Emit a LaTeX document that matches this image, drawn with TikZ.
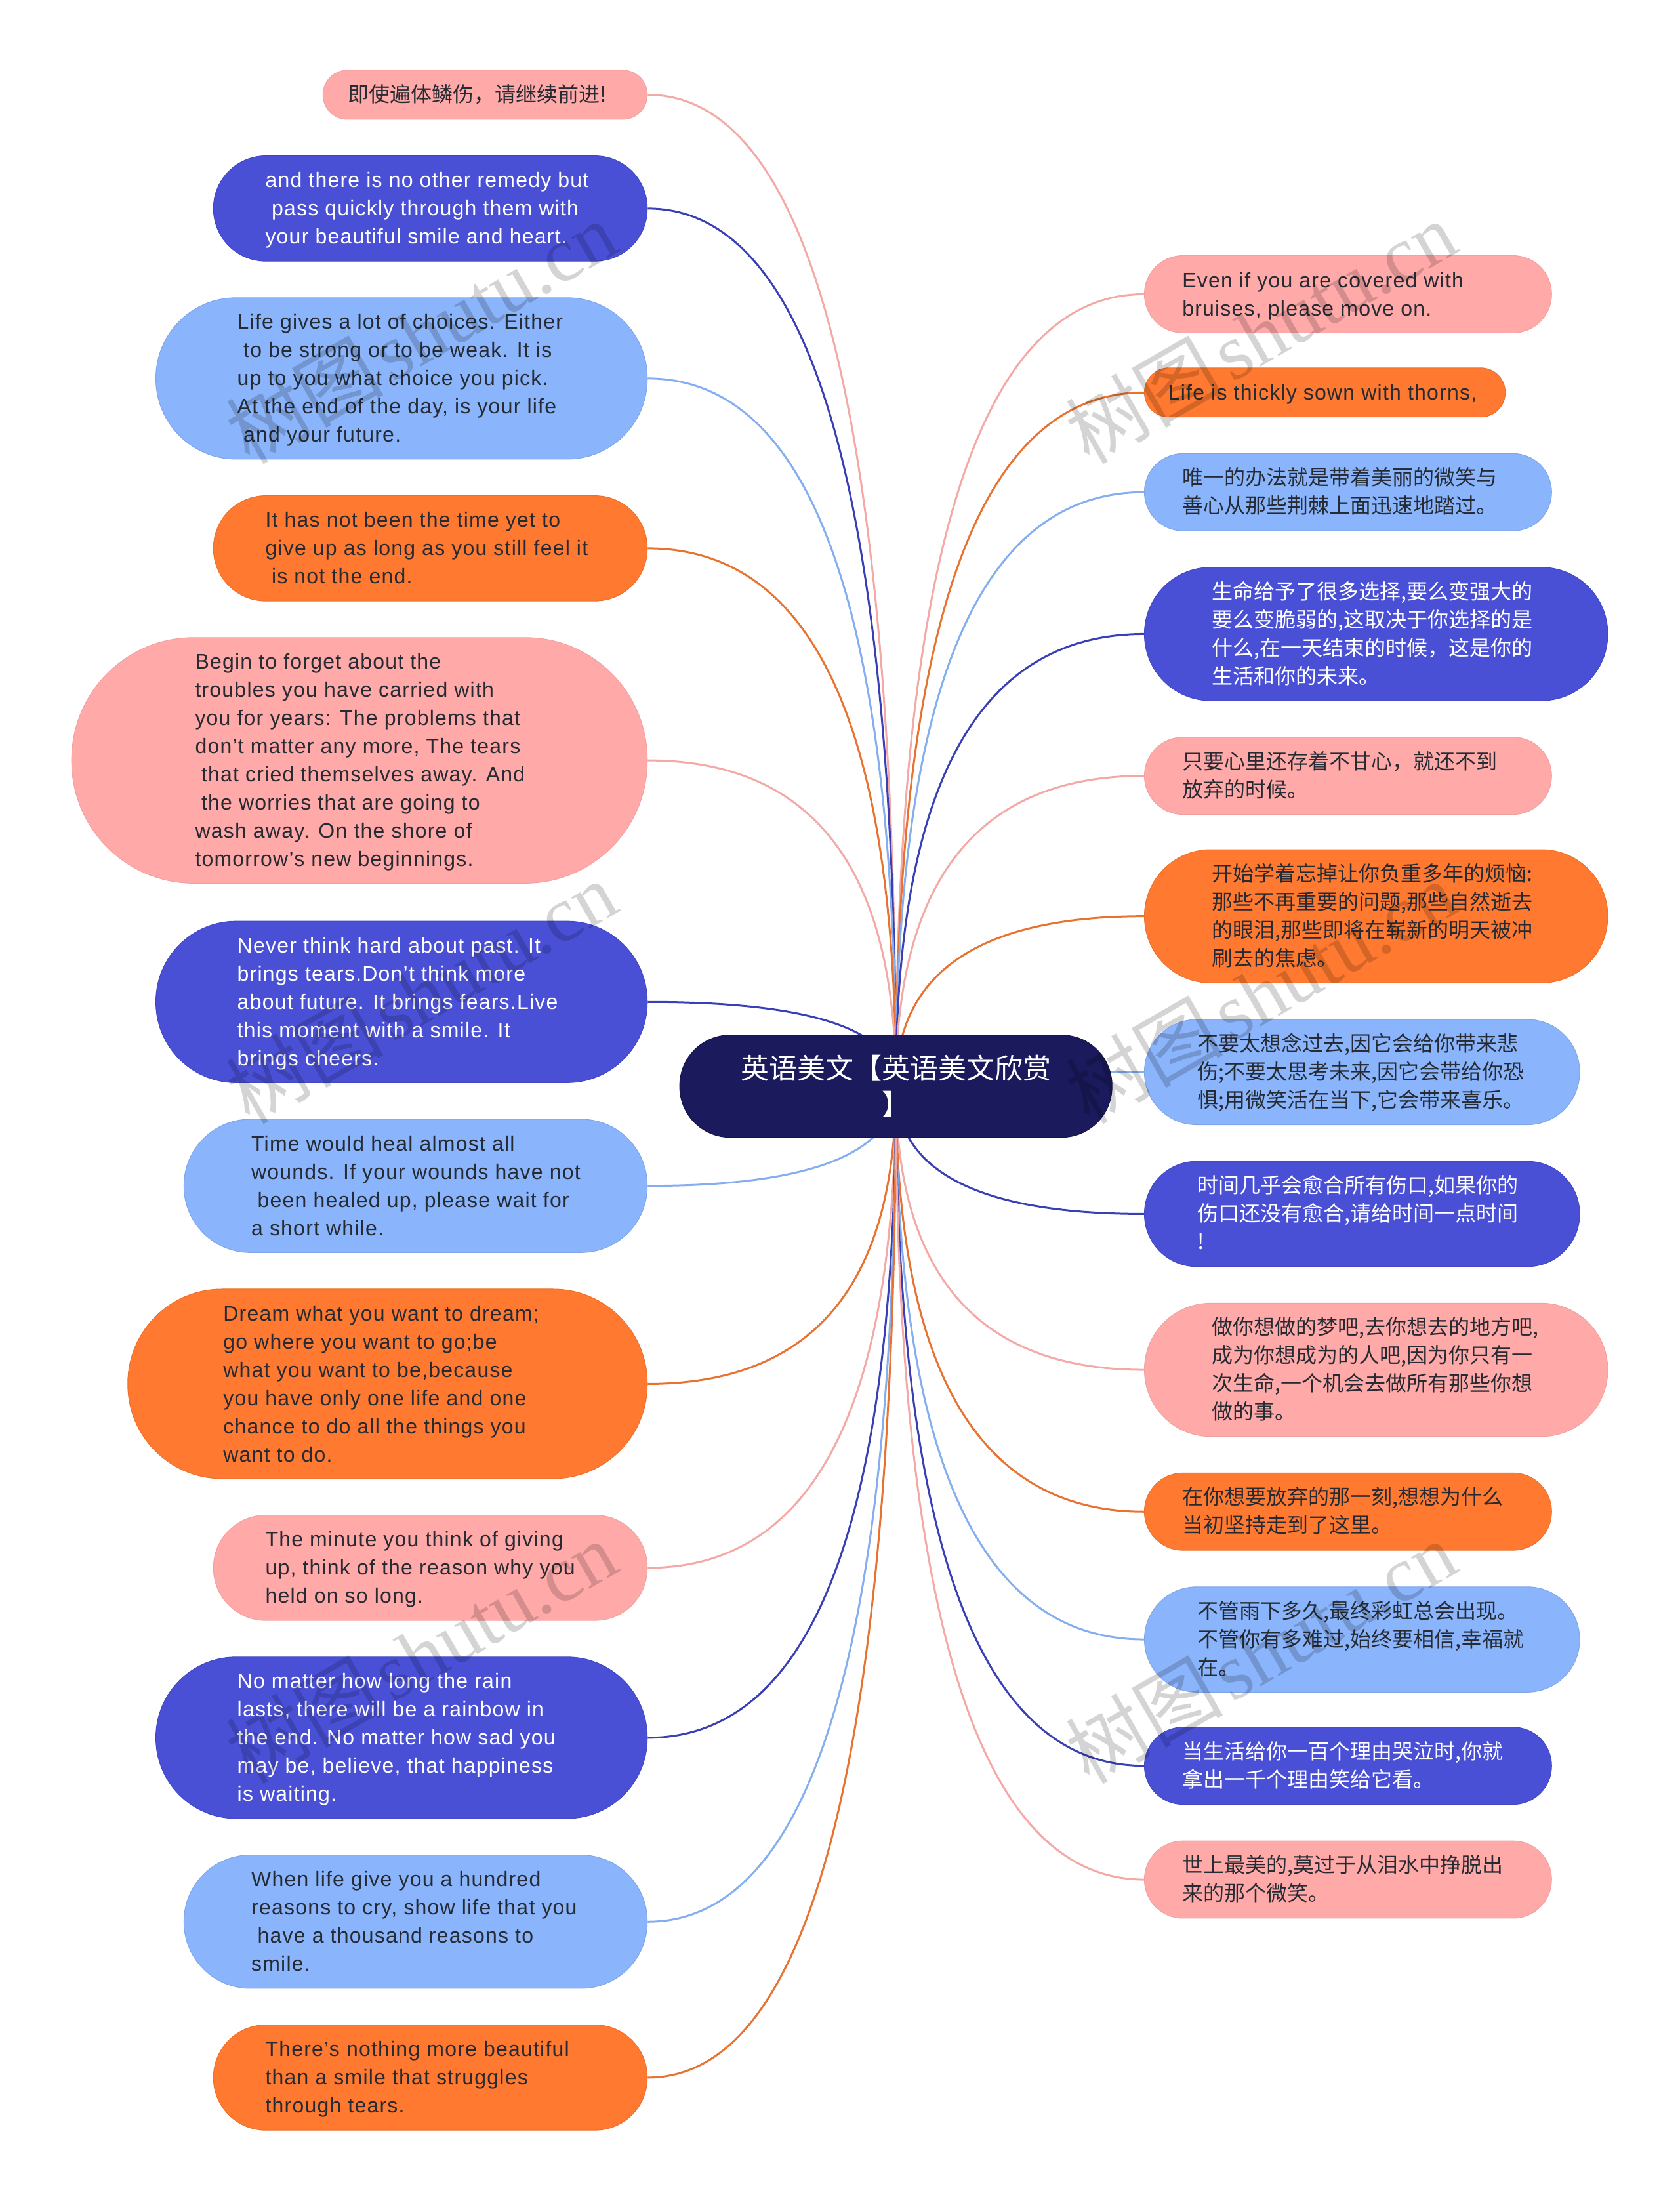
\documentclass[tikz,border=0pt]{standalone}
\usepackage{fontspec}
\setmainfont[LetterSpace=3.8]{Liberation Sans}
\newfontfamily\cjkf{Noto Sans CJK SC}
\newfontfamily\wmserif{Liberation Serif}
\usetikzlibrary{calc}
\pgfdeclarelayer{bg}
\pgfsetlayers{bg,main}
\definecolor{cpink}{HTML}{FFA9A9}
\definecolor{cdark}{HTML}{4950D6}
\definecolor{clight}{HTML}{8AB4FB}
\definecolor{corange}{HTML}{FF7A30}
\definecolor{croot}{HTML}{1A1A5C}
\definecolor{lpink}{HTML}{F3AAA6}
\definecolor{ldark}{HTML}{3A40B4}
\definecolor{llight}{HTML}{85AEEF}
\definecolor{lorange}{HTML}{E8722F}
\definecolor{tdark}{HTML}{262B33}
\tikzset{
  base/.style={inner sep=0pt,font=\fontsize{32}{43}\selectfont,text=tdark,line width=1pt},
  bpink/.style={base,fill=cpink,draw=cpink!95!black},
  bdark/.style={base,fill=cdark,draw=cdark!90!black,text=white},
  blight/.style={base,fill=clight,draw=clight!92!black},
  borange/.style={base,fill=corange,draw=corange!92!black},
  link/.style={line width=3pt},
  watermark/.style={opacity=0.17,text=black,rotate=30,anchor=west,inner sep=0pt,font=\fontsize{120}{120}\selectfont}
}
\newcommand{\ind}{\hspace*{9.5pt}}
\newcommand{\bx}[8]{%
  \pgfmathsetlengthmacro{\bW}{(#5-#3)*2.1405pt}%
  \pgfmathsetlengthmacro{\bH}{(#6-#4)*2.1405pt}%
  \pgfmathsetlengthmacro{\bR}{(#6-#4)*1.065pt}%
  \pgfmathsetlengthmacro{\bP}{#7*2.1405pt}%
  \node[#2,rounded corners=\bR,minimum width=\bW,minimum height=\bH] (#1) at ({(#3+#5)/2},{(#4+#6)/2})
    {\makebox[\bW][l]{\hspace*{\bP}\raisebox{-2.5pt}[\dimexpr\height+2.5pt][\dimexpr\depth+2.5pt]{\begin{tabular}[c]{@{}l@{}}#8\end{tabular}}}};%
}
\newcommand{\conL}[2]{%
  \coordinate (q) at (root.center |- #1.east);
  \draw[link,#2] (#1.east) .. controls ($(#1.east)!0.6667!(q)$) and ($(root.center)!0.6667!(q)$) .. (root.center);%
}
\newcommand{\conR}[2]{%
  \coordinate (q) at (root.center |- #1.west);
  \draw[link,#2] (#1.west) .. controls ($(#1.west)!0.6667!(q)$) and ($(root.center)!0.6667!(q)$) .. (root.center);%
}
\newcommand{\wm}[2]{\node[watermark] (wm#1) at (#2) {\cjkf 树图\hspace{12pt}\wmserif shutu.cn};}
\begin{document}
\begin{tikzpicture}[x=2.1405pt,y=-2.1405pt]
\useasboundingbox (0,0) rectangle (1196,1567.4);
\node[fill=croot,draw=croot!80!black,line width=1pt,rounded corners=77pt,minimum width=659pt,minimum height=156pt,inner sep=0pt,text=white,align=center,font=\fontsize{43}{55}\selectfont\cjkf] (root) at (638,773.5) {英语美文【英语美文欣赏\\】};
% left column
\bx{la}{bpink}{230}{50}{461}{85}{18}{\cjkf 即使遍体鳞伤，请继续前进!}
\bx{lb}{bdark}{152}{111}{461}{186}{37}{and there is no other remedy but\\\ind pass quickly through them with\\your beautiful smile and heart.}
\bx{lc}{blight}{111}{212}{461}{327}{58}{Life gives a lot of choices. Either\\\ind to be strong or to be weak. It is\\up to you what choice you pick.\\At the end of the day, is your life\\\ind and your future.}
\bx{ld}{borange}{152}{353}{461}{428}{37}{It has not been the time yet to\\give up as long as you still feel it\\\ind is not the end.}
\bx{le}{bpink}{51}{454}{461}{629}{88}{Begin to forget about the\\troubles you have carried with\\you for years: The problems that\\don’t matter any more, The tears\\\ind that cried themselves away. And\\\ind the worries that are going to\\wash away. On the shore of\\tomorrow’s new beginnings.}
\bx{lf}{bdark}{111}{656}{461}{771}{58}{Never think hard about past. It\\brings tears.Don’t think more\\about future. It brings fears.Live\\this moment with a smile. It\\brings cheers.}
\bx{lg}{blight}{131}{797}{461}{892}{48}{Time would heal almost all\\wounds. If your wounds have not\\\ind been healed up, please wait for\\a short while.}
\bx{lh}{borange}{91}{918}{461}{1053}{68}{Dream what you want to dream;\\go where you want to go;be\\what you want to be,because\\you have only one life and one\\chance to do all the things you\\want to do.}
\bx{li}{bpink}{152}{1079}{461}{1154}{37}{The minute you think of giving\\up, think of the reason why you\\held on so long.}
\bx{lj}{bdark}{111}{1180}{461}{1295}{58}{No matter how long the rain\\lasts, there will be a rainbow in\\the end. No matter how sad you\\may be, believe, that happiness\\is waiting.}
\bx{lk}{blight}{131}{1321}{461}{1416}{48}{When life give you a hundred\\reasons to cry, show life that you\\\ind have a thousand reasons to\\smile.}
\bx{ll}{borange}{152}{1442}{461}{1517}{37}{There’s nothing more beautiful\\than a smile that struggles\\through tears.}
% right column
\bx{ra}{bpink}{815}{182}{1105}{237}{27}{Even if you are covered with\\bruises, please move on.}
\bx{rb}{borange}{815}{262}{1072}{297}{17}{Life is thickly sown with thorns,}
\bx{rc}{blight}{815}{323}{1105}{378}{27}{\cjkf 唯一的办法就是带着美丽的微笑与\\\cjkf 善心从那些荆棘上面迅速地踏过。}
\bx{rd}{bdark}{815}{404}{1145}{499}{48}{\cjkf 生命给予了很多选择,要么变强大的\\\cjkf 要么变脆弱的,这取决于你选择的是\\\cjkf 什么,在一天结束的时候，这是你的\\\cjkf 生活和你的未来。}
\bx{re}{bpink}{815}{525}{1105}{580}{27}{\cjkf 只要心里还存着不甘心，就还不到\\\cjkf 放弃的时候。}
\bx{rf}{borange}{815}{605}{1145}{700}{48}{\cjkf 开始学着忘掉让你负重多年的烦恼:\\\cjkf 那些不再重要的问题,那些自然逝去\\\cjkf 的眼泪,那些即将在崭新的明天被冲\\\cjkf 刷去的焦虑。}
\bx{rg}{blight}{815}{726}{1125}{801}{38}{\cjkf 不要太想念过去,因它会给你带来悲\\\cjkf 伤;不要太思考未来,因它会带给你恐\\\cjkf 惧;用微笑活在当下,它会带来喜乐。}
\bx{rh}{bdark}{815}{827}{1125}{902}{38}{\cjkf 时间几乎会愈合所有伤口,如果你的\\\cjkf 伤口还没有愈合,请给时间一点时间\\\cjkf !}
\bx{ri}{bpink}{815}{928}{1145}{1023}{48}{\cjkf 做你想做的梦吧,去你想去的地方吧,\\\cjkf 成为你想成为的人吧,因为你只有一\\\cjkf 次生命,一个机会去做所有那些你想\\\cjkf 做的事。}
\bx{rj}{borange}{815}{1049}{1105}{1104}{27}{\cjkf 在你想要放弃的那一刻,想想为什么\\\cjkf 当初坚持走到了这里。}
\bx{rk}{blight}{815}{1130}{1125}{1205}{38}{\cjkf 不管雨下多久,最终彩虹总会出现。\\\cjkf 不管你有多难过,始终要相信,幸福就\\\cjkf 在。}
\bx{rl}{bdark}{815}{1230}{1105}{1285}{27}{\cjkf 当生活给你一百个理由哭泣时,你就\\\cjkf 拿出一千个理由笑给它看。}
\bx{rm}{bpink}{815}{1311}{1105}{1366}{27}{\cjkf 世上最美的,莫过于从泪水中挣脱出\\\cjkf 来的那个微笑。}
\begin{pgfonlayer}{bg}
\conL{la}{lpink}\conL{lb}{ldark}\conL{lc}{llight}\conL{ld}{lorange}
\conL{le}{lpink}\conL{lf}{ldark}\conL{lg}{llight}\conL{lh}{lorange}
\conL{li}{lpink}\conL{lj}{ldark}\conL{lk}{llight}\conL{ll}{lorange}
\conR{ra}{lpink}\conR{rb}{lorange}\conR{rc}{llight}\conR{rd}{ldark}
\conR{re}{lpink}\conR{rf}{lorange}\conR{rg}{llight}\conR{rh}{ldark}
\conR{ri}{lpink}\conR{rj}{lorange}\conR{rk}{llight}\conR{rl}{ldark}\conR{rm}{lpink}
\end{pgfonlayer}
% watermarks
\wm{a}{167,313}
\wm{b}{167,783}
\wm{c}{167,1253}
\wm{d}{167,1723}
\wm{e}{765,313}
\wm{f}{765,783}
\wm{g}{765,1253}
\wm{h}{765,1723}
\end{tikzpicture}
\end{document}
